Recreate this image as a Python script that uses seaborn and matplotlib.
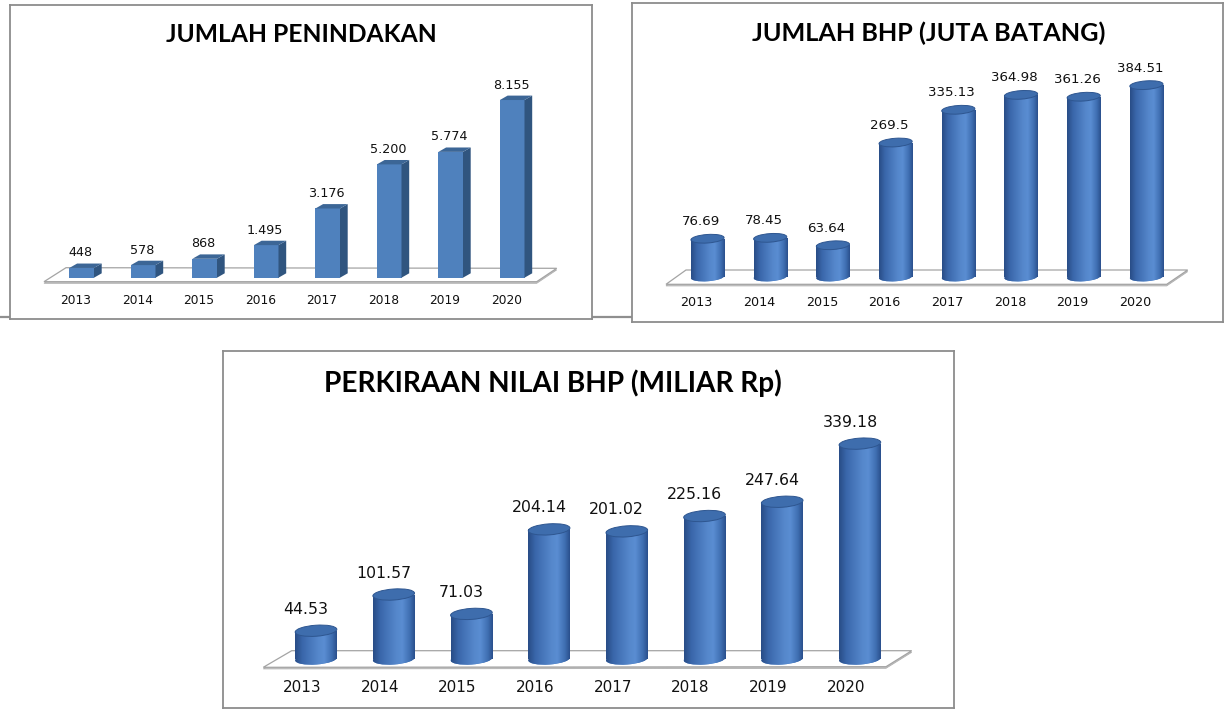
import numpy as np
import matplotlib
matplotlib.use("Agg")
import matplotlib.pyplot as plt
import seaborn as sns
from matplotlib.patches import Polygon, Ellipse
from matplotlib.colors import LinearSegmentedColormap
from matplotlib.lines import Line2D
from matplotlib.transforms import ScaledTranslation

# ---------------- data ----------------
years = ["2013", "2014", "2015", "2016", "2017", "2018", "2019", "2020"]
penindakan = [448, 578, 868, 1495, 3176, 5200, 5774, 8155]
bhp_batang = [76.69, 78.45, 63.64, 269.5, 335.13, 364.98, 361.26, 384.51]
nilai_bhp = [44.53, 101.57, 71.03, 204.14, 201.02, 225.16, 247.64, 339.18]
title_1 = "JUMLAH PENINDAKAN"
title_2 = "JUMLAH BHP (JUTA BATANG)"
title_3 = "PERKIRAAN NILAI BHP (MILIAR Rp)"

# ---------------- style ----------------
W, H = 1231, 715
sns.set_style("white")
plt.rcParams["font.family"] = ["DejaVu Sans"]
TXT = "#111111"
FRONT = "#4F81BD"
SIDE = "#30557F"
TOP = "#3C6696"
cyl_cmap = LinearSegmentedColormap.from_list(
    "cyl", [(0.0, "#284C86"), (0.18, "#3A67AB"), (0.55, "#5587CB"),
            (0.7, "#5A8DD2"), (0.88, "#3F6FB2"), (1.0, "#2A4F8C")])
grad = np.linspace(0, 1, 256)[np.newaxis, :]

fig = plt.figure(figsize=(W / 100, H / 100), dpi=100)
fig.patch.set_facecolor("white")

# spreadsheet gridline behind the charts
fig.add_artist(Line2D([0, 632 / W], [1 - 317 / H] * 2, transform=fig.transFigure,
                      color="#8f8f8f", lw=1.6, zorder=-1))


def make_axes(box):
    left, top, right, bottom = box
    ax = fig.add_axes([left / W, 1 - bottom / H, (right - left) / W, (bottom - top) / H])
    ax.set_facecolor("white")
    return ax


def finish_axes(ax):
    ax.set_xticks([])
    ax.set_yticks([])
    ax.set_xlabel("")
    ax.set_ylabel("")
    for s in ax.spines.values():
        s.set_visible(True)
        s.set_color("#8c8c8c")
        s.set_linewidth(1.3)


def set_frame(ax, box, c0, step, zero, scale):
    left, top, right, bottom = box
    ax.set_xlim((left - c0) / step, (right - c0) / step)
    ax.set_ylim((zero - bottom) / scale, (zero - top) / scale)


def off(ax, x, y, dx, dy):
    X, Y = ax.transData.transform((x, y))
    return tuple(ax.transData.inverted().transform((X + dx, Y + dy)))


def draw_floor(ax, box, pts_px):
    left, top, right, bottom = box
    fr = [((px - left) / (right - left), (bottom - py) / (bottom - top)) for px, py in pts_px]
    shadow = [(x, y - 1.6 / (bottom - top)) for x, y in fr]
    ax.add_patch(Polygon(shadow, closed=True, transform=ax.transAxes,
                         facecolor="#c4c4c4", edgecolor="#b0b0b0", lw=0.6, zorder=0.5))
    ax.add_patch(Polygon(fr, closed=True, transform=ax.transAxes,
                         facecolor="white", edgecolor="#a4a4a4", lw=0.9, zorder=0.6))


def add_title(text, cx, baseline, target_w):
    t = fig.text(cx / W, 1 - baseline / H, text, ha="center", va="baseline",
                 fontsize=17, fontweight="bold", color="black",
                 family=["Lato", "DejaVu Sans"])
    r = fig.canvas.get_renderer()
    bw = t.get_window_extent(r).width
    t.set_fontsize(17 * target_w / bw)
    return t


# ================= panel 1: 3D boxes =================
box1 = (10, 5, 591.7, 319.3)
ax1 = make_axes(box1)
sns.barplot(x=years, y=penindakan, ax=ax1, color=FRONT, saturation=1,
            width=0.4, errorbar=None, zorder=2)
bars1 = list(ax1.patches)
finish_axes(ax1)
set_frame(ax1, box1, 81.7, 61.5, 277.7, 0.02179)
draw_floor(ax1, box1, [(44, 281.7), (536.7, 281.7), (556.7, 268.3), (66, 267.7)])
for p, v in zip(bars1, penindakan):
    p.set_edgecolor("none")
    x0, w, h = p.get_x(), p.get_width(), p.get_height()
    x1 = x0 + w
    side = [(x1, 0), (x1, h), off(ax1, x1, h, 7.7, 4.4), off(ax1, x1, 0, 7.7, 4.4)]
    topf = [(x0, h), (x1, h), off(ax1, x1, h, 7.7, 4.4), off(ax1, x0, h, 7.7, 4.4)]
    ax1.add_patch(Polygon(side, closed=True, facecolor=SIDE, edgecolor="none", zorder=2.5))
    ax1.add_patch(Polygon(topf, closed=True, facecolor=TOP, edgecolor="none", zorder=2.5))
    cx = x0 + w / 2
    ax1.annotate(f"{v:,}".replace(",", "."), xy=(cx, h), xytext=(-1, 15),
                 textcoords="offset pixels", ha="center", va="center",
                 fontsize=9.2, color=TXT)
for i, p in enumerate(bars1):
    cx = p.get_x() + p.get_width() / 2
    ax1.annotate(years[i], xy=(cx, 0), xytext=(-6, -22.3), textcoords="offset pixels",
                 ha="center", va="center", fontsize=8.8, color=TXT)
set_frame(ax1, box1, 81.7, 61.5, 277.7, 0.02179)
add_title(title_1, 301.7, 41.7, 270)


# ================= cylinders =================
def draw_cylinders(ax, bars, values, eh, angle, val_off, yr_off, fs_val, fs_yr):
    for p, v, yr in zip(bars, values, years):
        x0, w, h = p.get_x(), p.get_width(), p.get_height()
        cx = x0 + w / 2
        wpx = ax.transData.transform((x0 + w, 0))[0] - ax.transData.transform((x0, 0))[0]
        p.set_facecolor("#4A7CC0")
        p.set_edgecolor("none")
        p.set_zorder(2.8)
        # bottom ellipse
        tb = fig.dpi_scale_trans + ScaledTranslation(cx, 0, ax.transData)
        eb = Ellipse((0, 0), wpx / 100, eh / 100, angle=angle, transform=tb,
                     facecolor="#4A7CC0", edgecolor="none", zorder=2.7)
        ax.add_patch(eb)
        ylo = off(ax, cx, 0, 0, -eh)[1]
        yhi = off(ax, cx, 0, 0, eh)[1]
        im = ax.imshow(grad, extent=(x0, x0 + w, ylo, yhi), aspect="auto", cmap=cyl_cmap,
                       interpolation="bilinear", origin="lower", zorder=2.75)
        im.set_clip_path(eb)
        im2 = ax.imshow(grad, extent=(x0, x0 + w, 0, h), aspect="auto", cmap=cyl_cmap,
                        interpolation="bilinear", origin="lower", zorder=2.9)
        im2.set_clip_path(p)
        # top ellipse
        tt = fig.dpi_scale_trans + ScaledTranslation(cx, h, ax.transData)
        ax.add_patch(Ellipse((0, 0), wpx / 100, eh / 100, angle=angle, transform=tt,
                             facecolor="#3E6DAD", edgecolor="#2E5690", lw=0.7, zorder=3.2))
        ax.annotate(f"{v:g}", xy=(cx, h), xytext=val_off, textcoords="offset pixels",
                    ha="center", va="center", fontsize=fs_val, color=TXT)
        ax.annotate(yr, xy=(cx, 0), xytext=yr_off, textcoords="offset pixels",
                    ha="center", va="center", fontsize=fs_yr, color=TXT)


# ================= panel 2 =================
box2 = (631.7, 3, 1223.3, 322.3)
ax2 = make_axes(box2)
sns.barplot(x=years, y=bhp_batang, ax=ax2, color="#4A7CC0", saturation=1,
            width=0.53, errorbar=None)
bars2 = list(ax2.patches)
finish_axes(ax2)
set_frame(ax2, box2, 707.5, 62.7, 277, 0.499)
draw_floor(ax2, box2, [(666, 284.3), (1166.7, 284.3), (1187.7, 270), (686, 270)])
draw_cylinders(ax2, bars2, bhp_batang, 8.5, 4, (-6.5, 17), (-11, -25), 9.6, 9.2)
set_frame(ax2, box2, 707.5, 62.7, 277, 0.499)
add_title(title_2, 929, 41.5, 355)

# ================= panel 3 =================
box3 = (222.7, 351, 954.3, 708.3)
ax3 = make_axes(box3)
sns.barplot(x=years, y=nilai_bhp, ax=ax3, color="#4A7CC0", saturation=1,
            width=0.537, errorbar=None)
bars3 = list(ax3.patches)
finish_axes(ax3)
set_frame(ax3, box3, 316, 77.7, 659, 0.635)
draw_floor(ax3, box3, [(263.3, 667.3), (886, 666.7), (911.7, 650.7), (291.7, 650.7)])
draw_cylinders(ax3, bars3, nilai_bhp, 11, 4, (-10, 21.5), (-14, -28.3), 11.3, 11)
set_frame(ax3, box3, 316, 77.7, 659, 0.635)
add_title(title_3, 553.3, 391.7, 457)

fig.savefig("out.png", dpi=100, facecolor="white")
